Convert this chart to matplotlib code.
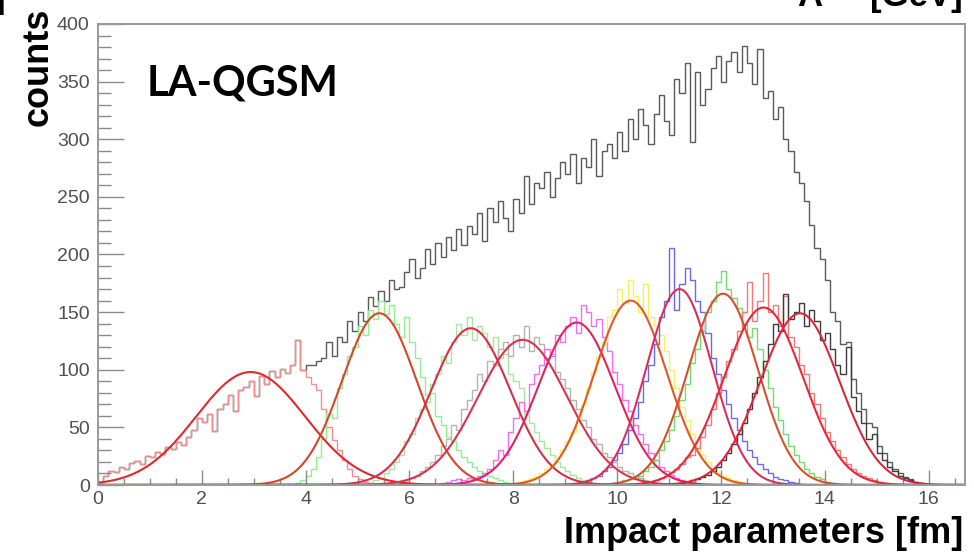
import numpy as np
import matplotlib
matplotlib.use('Agg')
import matplotlib.pyplot as plt
from matplotlib.ticker import MultipleLocator

# binning of the impact-parameter histograms (fm)
BIN_WIDTH = 0.1
N_BINS = 167

# all events
total_counts = [
    3, 8, 12, 11, 16, 14, 19, 21, 18, 25,
    24, 29, 27, 33, 31, 37, 35, 42, 48, 58,
    55, 62, 47, 66, 70, 78, 64, 82, 85, 90,
    77, 95, 88, 99, 94, 101, 97, 104, 126, 100,
    104, 104, 108, 110, 124, 112, 128, 124, 142, 134,
    150, 142, 163, 155, 168, 160, 178, 170, 172, 185,
    196, 180, 188, 205, 192, 210, 198, 215, 204, 222,
    208, 225, 218, 236, 212, 240, 228, 246, 232, 220,
    248, 236, 268, 244, 262, 258, 272, 250, 266, 280,
    270, 287, 262, 284, 276, 300, 268, 290, 296, 284,
    306, 290, 318, 300, 326, 312, 296, 322, 338, 316,
    304, 352, 340, 366, 298, 358, 330, 344, 362, 372,
    350, 368, 376, 358, 381, 366, 348, 378, 336, 342,
    318, 328, 300, 290, 272, 262, 246, 226, 206, 196,
    178, 150, 142, 122, 124, 92, 80, 66, 54, 50,
    34, 28, 20, 14, 10, 7, 5, 3, 2, 1,
    0, 0, 0, 0, 0, 0, 0,
]

# centrality classes: (first bin, counts)
class_start = [0, 38, 52, 58, 66, 78, 92, 98, 104, 110]
class_counts = [
    [3, 8, 12, 11, 16, 14, 19, 21, 18, 25,
     24, 29, 27, 33, 31, 37, 35, 42, 48, 58,
     55, 62, 47, 66, 70, 78, 64, 82, 85, 90,
     77, 95, 88, 99, 94, 101, 97, 104, 126, 100,
     94, 88, 82, 66, 50, 39, 30, 22, 14, 8, 5, 3, 2, 1],
    [2, 4, 8, 14, 24, 40, 62, 58, 84, 96,
     112, 120, 138, 130, 152, 144, 160, 148, 156, 140,
     128, 146, 124, 110, 94, 78, 80, 60, 52, 42,
     38, 30, 24, 20, 16, 12, 10, 8, 6, 4, 3, 2, 1, 1],
    [2, 4, 6, 10, 14, 20, 26, 38, 44, 58,
     66, 72, 88, 96, 112, 106, 124, 140, 130, 146,
     126, 138, 132, 120, 128, 110, 114, 96, 90, 84,
     62, 54, 46, 38, 32, 26, 20, 16, 12, 9, 6, 4, 3, 2, 1],
    [2, 4, 6, 8, 12, 16, 20, 26, 34, 40,
     52, 48, 66, 74, 82, 96, 90, 108, 104, 118,
     124, 112, 130, 120, 138, 116, 128, 122, 110, 114,
     98, 92, 84, 74, 66, 56, 50, 40, 36, 28,
     24, 20, 16, 12, 10, 8, 6, 4, 3, 2, 1],
    [2, 3, 4, 5, 4, 6, 5, 8, 10, 14,
     22, 30, 26, 46, 58, 72, 64, 88, 96, 104,
     118, 112, 130, 124, 138, 146, 132, 156, 150, 138,
     144, 128, 116, 98, 88, 74, 64, 52, 44, 36,
     28, 22, 16, 12, 9, 6, 4, 3, 2, 1],
    [1, 1, 2, 3, 4, 6, 8, 10, 14, 18,
     24, 30, 38, 46, 56, 70, 84, 98, 112, 124,
     146, 152, 170, 158, 178, 164, 150, 174, 146, 138,
     130, 116, 100, 84, 68, 56, 44, 34, 26, 20,
     14, 10, 8, 6, 4, 3, 2, 1],
    [2, 3, 4, 6, 8, 12, 16, 22, 28, 36,
     48, 58, 72, 90, 104, 122, 146, 160, 206, 152,
     174, 188, 178, 160, 150, 132, 110, 96, 82, 70,
     58, 48, 38, 30, 24, 18, 14, 10, 7, 5, 4, 3, 2, 1],
    [1, 2, 3, 4, 5, 6, 8, 12, 16, 22,
     30, 38, 48, 60, 74, 88, 106, 118, 134, 150,
     160, 176, 186, 170, 162, 154, 140, 128, 136, 118,
     100, 84, 68, 56, 44, 34, 26, 20, 14, 10, 7, 5, 3, 2, 1],
    [1, 2, 3, 4, 6, 8, 11, 14, 18, 24,
     26, 32, 42, 52, 66, 80, 94, 108, 118, 134,
     150, 176, 142, 160, 184, 150, 156, 138, 164, 128,
     120, 104, 96, 80, 70, 58, 46, 38, 30, 24,
     18, 14, 10, 8, 6, 4, 3, 2, 1],
    [1, 1, 2, 3, 4, 5, 7, 9, 12, 16,
     22, 28, 36, 44, 54, 66, 80, 94, 108, 122,
     140, 134, 166, 144, 150, 158, 138, 152, 142, 126,
     132, 118, 104, 96, 120, 76, 64, 54, 40, 44,
     28, 22, 16, 12, 8, 6, 4, 3, 2, 1],
]
class_colors = ['#f28e8e', '#8ff08f', '#a8e6a0', '#b4b4b4', '#f56cf5',
                '#f5f060', '#6a6af0', '#70dc70', '#f47878', '#3c3c3c']

# gaussian fit of each class: amplitude, mean (fm), sigma (fm)
fit_amp = [98, 149, 136, 126, 141, 160, 170, 166, 154, 149]
fit_mean = [2.94, 5.42, 7.18, 8.18, 9.22, 10.26, 11.20, 12.04, 12.82, 13.52]
fit_sigma = [1.05, 0.72, 0.76, 0.86, 0.74, 0.70, 0.63, 0.67, 0.76, 0.76]
fit_colors = ['#e0282e', '#d8452a', '#d63048', '#d8344a', '#e0245a',
              '#e0582a', '#d8305a', '#d6502e', '#e8283a', '#d8283c']


def fill_bins(start, counts):
    arr = np.zeros(N_BINS)
    arr[start:start + len(counts)] = counts
    return arr


edges = np.arange(N_BINS + 1) * BIN_WIDTH

fig = plt.figure(figsize=(9.74, 5.52), dpi=100)
ax = fig.add_axes([98 / 974, 1 - 485 / 552, 867 / 974, 461 / 552])

ax.stairs(total_counts, edges, color='#5a5a5a', linewidth=1.0, baseline=None)
for start, counts, col in zip(class_start, class_counts, class_colors):
    ax.stairs(fill_bins(start, counts), edges, color=col, linewidth=1.0, baseline=None)

xf = np.linspace(0, N_BINS * BIN_WIDTH, 800)
for a, m, s, col in zip(fit_amp, fit_mean, fit_sigma, fit_colors):
    ax.plot(xf, a * np.exp(-0.5 * ((xf - m) / s) ** 2), color=col, linewidth=1.5)

ax.set_xlim(0, N_BINS * BIN_WIDTH)
ax.set_ylim(0, 400)

# ROOT-like frame: ticks inside on left and bottom only
for side in ['left', 'bottom', 'top', 'right']:
    ax.spines[side].set_color('#9a9a9a')
    ax.spines[side].set_linewidth(1.4)
ax.xaxis.set_major_locator(MultipleLocator(2))
ax.xaxis.set_minor_locator(MultipleLocator(0.5))
ax.yaxis.set_major_locator(MultipleLocator(50))
ax.yaxis.set_minor_locator(MultipleLocator(10))
ax.tick_params(axis='y', which='major', direction='in', length=19, width=1.0,
               color='#8a8a8a', labelsize=14, labelcolor='#505050', pad=6)
ax.tick_params(axis='y', which='minor', direction='in', length=9, width=1.0, color='#8a8a8a')
ax.tick_params(axis='x', which='major', direction='in', length=11, width=1.0,
               color='#8a8a8a', labelsize=14, labelcolor='#505050', pad=4)
ax.tick_params(axis='x', which='minor', direction='in', length=5, width=1.0, color='#8a8a8a')
for lab in ax.get_xticklabels() + ax.get_yticklabels():
    lab.set_family('Liberation Sans')

ax.text(0.056, 0.87, 'LA-QGSM', transform=ax.transAxes, fontsize=30,
        fontweight='bold', family='Lato', ha='left', va='center')

fig.text(38 / 974, 1 - 8 / 552, 'counts', rotation=90, fontsize=26, fontweight='bold',
         family='Liberation Sans', ha='center', va='top')
fig.text(963 / 974, 1 - 543 / 552, 'Impact parameters [fm]', fontsize=26,
         fontweight='bold', family='Liberation Sans', ha='right', va='baseline')
fig.text(963 / 974, 1 - 6 / 552, 'A     [GeV]', fontsize=25,
         fontweight='bold', family='Liberation Sans', ha='right', va='baseline')
fig.text(-6 / 974, 1 - 8 / 552, ']', fontsize=25,
         fontweight='bold', family='Liberation Sans', ha='left', va='baseline')

fig.savefig('out.png', dpi=100)
